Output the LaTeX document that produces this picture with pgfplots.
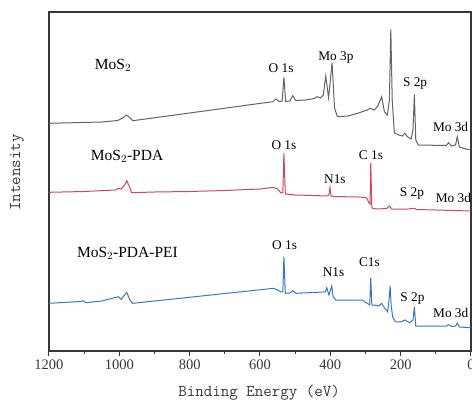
\documentclass[border=0pt]{standalone}
\usepackage{fontspec}
\setmainfont{Liberation Serif}
\usepackage{pgfplots}
\pgfplotsset{compat=1.18}
\definecolor{cgray}{RGB}{100,100,100}
\definecolor{cred}{RGB}{208,72,96}
\definecolor{cblue}{RGB}{58,118,208}
\definecolor{axc}{RGB}{55,55,55}
\newcommand{\pk}{\fontsize{13.3}{14}\selectfont}
\newcommand{\sm}{\fontsize{15.5}{16}\selectfont}
\begin{document}
\begin{tikzpicture}
\begin{axis}[
  scale only axis, width=422pt, height=339pt, at={(0,0)}, anchor=south west,
  xmin=0, xmax=1200, x dir=reverse, ymin=0, ymax=339,
  ytick=\empty, xtick={0,200,...,1200}, minor xtick={100,300,...,1100},
  xtick pos=bottom, tick align=outside,
  major tick length=5pt, minor tick length=3pt,
  axis line style={line width=1.1pt, axc},
  every tick/.style={line width=1pt, axc},
  /pgf/number format/assume math mode=true,
  /pgf/number format/set thousands separator={},
  xticklabel style={font=\fontsize{14.5}{14.5}\selectfont, text=axc},
  xlabel={\ttfamily\fontsize{16.5}{16.5}\selectfont Binding Energy (eV)},
  ylabel={\ttfamily\fontsize{16.5}{16.5}\selectfont Intensity},
  xlabel style={at={(axis description cs:0.498,-0.124)}, anchor=center, text=axc},
  ylabel style={at={(axis description cs:-0.076,0.527)}, anchor=center, text=axc},
  clip=true,
]
\addplot[cgray, line width=1pt] coordinates {
(1200,227.7)(1050,229)(1005,230.5)(990,233)(980,236)(972,234)(962,230.3)
(900,233.2)(800,238)(700,242.8)(600,247.6)(563,249.3)(555,252)(545,249.5)
(537,250)(532,273.7)(527,249.5)(515,250)(507,255.3)(498,250.5)(470,251)
(445,252.5)(438,254.3)(428,253)(420,256)(413,275)(405,253)(395,288.3)
(388,243)(380,234.3)(350,235)(320,238)(295,241)(287,242.7)(275,241)
(265,245)(254,254.3)(246,239)(238,236)(232,251)(228,321.7)(224,251)
(218,218)(205,216)(195,215)(188,217.7)(180,214)(170,212)(165,221)
(161,256.7)(157,211)(150,206)(100,205.7)(70,205.5)(64,208.3)(55,205)
(44,206)(39,214.3)(33,204)(15,202)(0,201)
};
\addplot[cred, line width=1pt] coordinates {
(1200,158.7)(1100,159.5)(1010,161)(1003,162.7)(995,162)(985,166)(979,170.3)
(972,165)(965,158.3)(900,159)(800,159.5)(700,160.5)(600,162)(563,163.7)
(550,162)(540,158)(535,158.5)(532,198)(528,157)(500,156)(450,155.5)
(410,155)(404,156)(401,163.7)(398,155)(390,154.5)(320,154)(300,153.5)
(295,152)(290,148)(287,147)(285,188)(282,143)(270,142)(240,142.5)
(232,145)(225,142)(180,142)(160,142.7)(155,141.5)(100,141)(0,140)
};
\addplot[cblue, line width=1pt] coordinates {
(1200,47.7)(1110,49.5)(1103,50.3)(1095,48.3)(1050,50)(1003,54.3)(995,51.7)
(979,58.7)(970,51)(962,47.7)(900,50)(800,53.7)(700,57.5)(600,61.2)
(562,62.7)(550,61)(540,59)(535,59.3)(532,94.3)(528,57.7)(515,58)
(507,60.3)(498,57.7)(420,59)(414,59.3)(410,63.3)(404,56)(396,65)
(392,54.3)(385,51)(310,51)(295,47.7)(288,46)(285,73.3)(282,46)
(270,45.7)(262,45)(254,47.7)(246,43)(237,39.3)(233,51)(230,65)
(227,46)(223,34.3)(215,29.3)(200,29)(188,31)(175,28.3)(165,31)
(161,44.3)(157,25)(100,25)(70,25)(64,26.3)(55,24.5)(44,25)(39,27.7)
(33,24)(0,23.3)
};
% labels
\node[font=\sm] at (axis cs:1018,286) {MoS$_2$};
\node[font=\pk] at (axis cs:540,283) {O 1s};
\node[font=\pk] at (axis cs:384,293) {Mo 3p};
\node[font=\pk] at (axis cs:159,267) {S 2p};
\node[font=\pk] at (axis cs:58,224) {Mo 3d};
\node[font=\sm] at (axis cs:978,195) {MoS$_2$-PDA};
\node[font=\pk] at (axis cs:532,206) {O 1s};
\node[font=\pk] at (axis cs:284.5,196) {C 1s};
\node[font=\pk] at (axis cs:387,172) {N1s};
\node[font=\pk] at (axis cs:168,157) {S 2p};
\node[font=\pk] at (axis cs:50,153) {Mo 3d};
\node[font=\sm] at (axis cs:977,98) {MoS$_2$-PDA-PEI};
\node[font=\pk] at (axis cs:530,106.3) {O 1s};
\node[font=\pk] at (axis cs:391,79.3) {N1s};
\node[font=\pk] at (axis cs:289,88.5) {C1s};
\node[font=\pk] at (axis cs:166.5,52) {S 2p};
\node[font=\pk] at (axis cs:57.6,37.7) {Mo 3d};
\end{axis}
\pgfresetboundingbox
\useasboundingbox (-49pt,-49pt) rectangle (423pt,351pt);
\end{tikzpicture}
\end{document}
